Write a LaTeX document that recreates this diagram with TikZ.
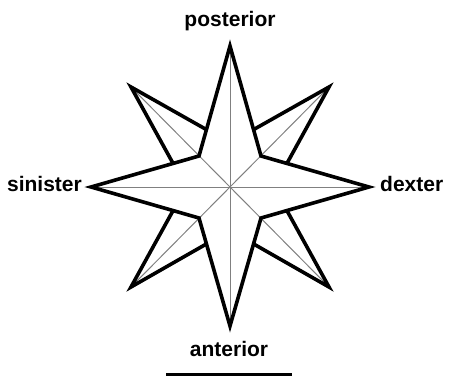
\documentclass[tikz,border=0pt]{standalone}
\usepackage{fontspec}
\setmainfont{Liberation Sans}
\usetikzlibrary{calc}
\begin{document}
\begin{tikzpicture}[x=1pt,y=-1pt,
  outline/.style={line width=3.6pt, black, line join=miter},
  guide/.style={line width=1pt, black!50},
  lbl/.style={font=\fontsize{21}{25}\selectfont\bfseries, inner sep=0pt},
  bar/.style={line width=2.6pt, black}]
\useasboundingbox (0,0) rectangle (450,376);
% main points
\coordinate (C) at (230,187);
\coordinate (N) at (230,46);
\coordinate (S) at (230,326);
\coordinate (W) at (91,187);
\coordinate (E) at (369,187);
% inner corners
\coordinate (INW) at (199,156);
\coordinate (INE) at (261,156);
\coordinate (ISW) at (199,218);
\coordinate (ISE) at (261,218);
% diagonal tips
\coordinate (DNW) at (131,87);
\coordinate (DNE) at (329,87);
\coordinate (DSW) at (131,287);
\coordinate (DSE) at (329,287);
% bases of the diagonal points
\coordinate (bNWw) at ($(INW)!0.24!(W)$);
\coordinate (bNWn) at ($(INW)!0.24!(N)$);
\coordinate (bNEe) at ($(INE)!0.24!(E)$);
\coordinate (bNEn) at ($(INE)!0.24!(N)$);
\coordinate (bSWw) at ($(ISW)!0.24!(W)$);
\coordinate (bSWs) at ($(ISW)!0.24!(S)$);
\coordinate (bSEe) at ($(ISE)!0.24!(E)$);
\coordinate (bSEs) at ($(ISE)!0.24!(S)$);
% guides
\draw[guide] (N) -- (S);
\draw[guide] (W) -- (E);
\draw[guide] (DNW) -- (DSE);
\draw[guide] (DNE) -- (DSW);
% outlines
\draw[outline] (N) -- (INE) -- (E) -- (ISE) -- (S) -- (ISW) -- (W) -- (INW) -- cycle;
\draw[outline] (bNWw) -- (DNW) -- (bNWn);
\draw[outline] (bNEe) -- (DNE) -- (bNEn);
\draw[outline] (bSWw) -- (DSW) -- (bSWs);
\draw[outline] (bSEe) -- (DSE) -- (bSEs);
% labels
\node[lbl, anchor=base] (post) at (230,26) {posterior};
\node[lbl, anchor=base] (ant) at (229,356) {anterior};
\node[lbl, anchor=base east] (sin) at (82,191) {sinister};
\node[lbl, anchor=base west] (dex) at (380,191) {dexter};
% scale bar
\coordinate (barL) at (166,374.5);
\coordinate (barR) at (292,374.5);
\draw[bar] (barL) -- (barR);
\end{tikzpicture}
\end{document}
